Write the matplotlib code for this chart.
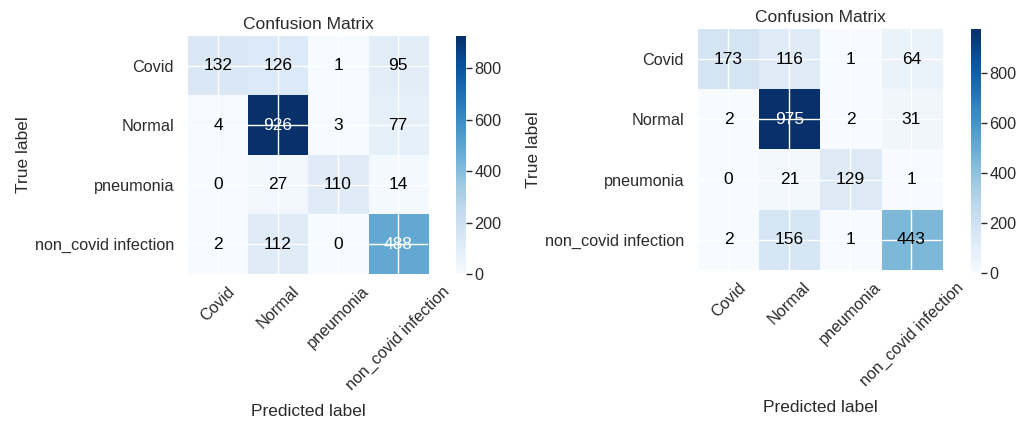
import numpy as np
import matplotlib
matplotlib.use("Agg")
import matplotlib.pyplot as plt

plt.rcParams['font.family'] = ['Liberation Sans', 'DejaVu Sans']

classes = ["Covid", "Normal", "pneumonia", "non_covid infection"]

cm_left = np.array([
    [132, 126, 1, 95],
    [4, 926, 3, 77],
    [0, 27, 110, 14],
    [2, 112, 0, 488],
])

cm_right = np.array([
    [173, 116, 1, 64],
    [2, 975, 2, 31],
    [0, 21, 129, 1],
    [2, 156, 1, 443],
])

cbar_ticks = [0, 200, 400, 600, 800]

TEXT = "#2b2b2b"
FS_TICK = 11.7
FS_CELL = 12.5
FS_LABEL = 12.5

fig = plt.figure(figsize=(10.24, 4.21), dpi=100)
fig.patch.set_facecolor("white")


def draw(cm, ax_rect, cax_rect):
    ax = fig.add_axes(ax_rect)
    cax = fig.add_axes(cax_rect)
    im = ax.imshow(cm, interpolation="nearest", cmap=plt.cm.Blues, aspect="auto")
    ax.set_title("Confusion Matrix", fontsize=FS_LABEL, color=TEXT, pad=5)
    ticks = np.arange(len(classes))
    ax.set_xticks(ticks)
    ax.set_xticklabels(classes, rotation=45, fontsize=FS_TICK, color=TEXT)
    ax.set_yticks(ticks)
    ax.set_yticklabels(classes, fontsize=FS_TICK, color=TEXT)
    ax.tick_params(axis="x", length=0, pad=7)
    ax.tick_params(axis="y", length=0, pad=10)
    for s in ax.spines.values():
        s.set_visible(False)
    ax.grid(True, color="white", linewidth=1)
    ax.set_axisbelow(False)
    thresh = cm.max() / 2.0
    for i in range(cm.shape[0]):
        for j in range(cm.shape[1]):
            ax.text(j, i, format(cm[i, j], "d"), ha="center", va="center",
                    fontsize=FS_CELL, color="white" if cm[i, j] > thresh else "black")
    ax.set_ylabel("True label", fontsize=FS_LABEL, color=TEXT, labelpad=3)
    ax.set_xlabel("Predicted label", fontsize=FS_LABEL, color=TEXT, labelpad=8)
    cb = fig.colorbar(im, cax=cax, ticks=cbar_ticks)
    cb.outline.set_visible(False)
    cax.tick_params(length=4, width=1, color=TEXT, labelsize=FS_TICK, labelcolor=TEXT, pad=2)
    return ax


draw(cm_left, [0.1836, 0.3492, 0.2344, 0.5653], [0.4453, 0.3492, 0.0098, 0.5653])
draw(cm_right, [0.6816, 0.3587, 0.2383, 0.5724], [0.9482, 0.3515, 0.0098, 0.5796])

fig.savefig("out.png", dpi=100, facecolor="white")
